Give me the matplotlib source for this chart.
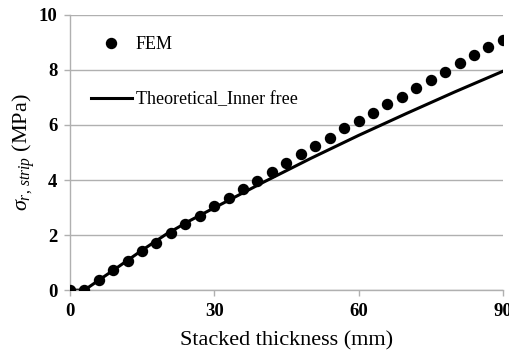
import numpy as np
import matplotlib
matplotlib.use("Agg")
import matplotlib.pyplot as plt

plt.rcParams['font.family'] = 'Liberation Serif'
plt.rcParams['mathtext.fontset'] = 'custom'
plt.rcParams['mathtext.rm'] = 'Liberation Serif'
plt.rcParams['mathtext.it'] = 'Liberation Serif:italic'

# FEM results, every 3 mm
fem_x = list(range(0, 91, 3))
fem_y = [0, 0, 0.36, 0.73, 1.07, 1.42, 1.72, 2.08, 2.39, 2.69, 3.05,
         3.33, 3.66, 3.97, 4.30, 4.63, 4.95, 5.25, 5.54, 5.88, 6.16,
         6.45, 6.75, 7.03, 7.33, 7.64, 7.94, 8.24, 8.55, 8.82, 9.07]

# theoretical curve (inner free)
theo_x = [0, 3, 6, 10, 15, 20, 25, 30, 40, 50, 60, 70, 80, 90]
theo_y = [0, 0, 0.36, 0.84, 1.45, 2.03, 2.53, 2.99, 3.9, 4.78, 5.62, 6.42, 7.2, 7.95]

fig = plt.figure(figsize=(5.1, 3.53), dpi=100)
ax = fig.add_axes([0.137, 0.178, 0.849, 0.78])

ax.plot(fem_x, fem_y, 'o', color='black', markersize=7.2, label='FEM', zorder=3)
ax.plot(theo_x, theo_y, '-', color='black', linewidth=2.2, label='Theoretical_Inner free', zorder=2)

ax.set_xlim(0, 90)
ax.set_ylim(0, 10)
ax.set_xticks([0, 30, 60, 90])
ax.set_yticks([0, 2, 4, 6, 8, 10])
ax.grid(axis='y', color='#b0b0b0', linewidth=1)
ax.set_axisbelow(True)

for s in ['top', 'right']:
    ax.spines[s].set_visible(False)
for s in ['left', 'bottom']:
    ax.spines[s].set_color('#b0b0b0')
    ax.spines[s].set_linewidth(1)
ax.tick_params(axis='both', colors='#b0b0b0', length=4, width=1, labelcolor='black',
               labelsize=13.5, pad=5)
for lab in ax.get_xticklabels() + ax.get_yticklabels():
    lab.set_fontweight('bold')

ax.set_xlabel('Stacked thickness (mm)', fontsize=16, labelpad=8)
ax.set_ylabel(r'$\sigma_{r,\,strip}$ (MPa)', fontsize=16, labelpad=1)

ax.legend(loc='upper left', frameon=False, fontsize=13, labelspacing=2.1,
          handlelength=2.3, handletextpad=0.2, borderaxespad=0, borderpad=0,
          bbox_to_anchor=(0.048, 0.922))

fig.savefig('out.png', dpi=100)
